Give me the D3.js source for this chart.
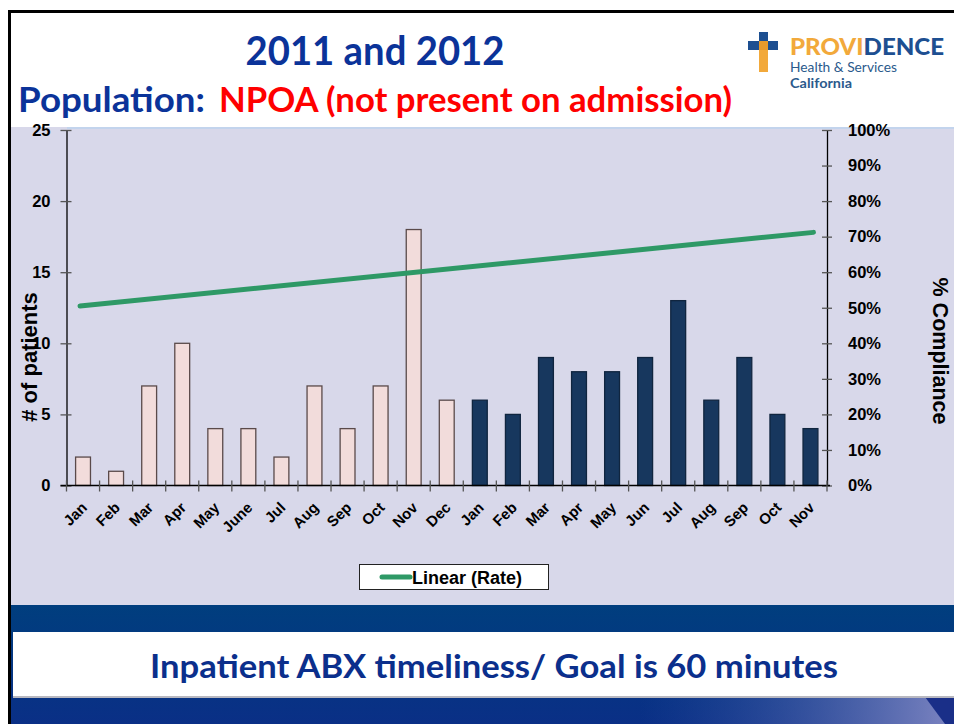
<!DOCTYPE html>
<html><head><meta charset="utf-8">
<script src="https://cdn.jsdelivr.net/npm/d3@7"></script>
<style>html,body{margin:0;padding:0;background:#fff;}svg{display:block;}</style>
</head><body>
<svg id="c" width="954" height="724"></svg>
<script>
// ---- data ----
const months2011 = ["Jan","Feb","Mar","Apr","May","June","Jul","Aug","Sep","Oct","Nov","Dec"];
const months2012 = ["Jan","Feb","Mar","Apr","May","Jun","Jul","Aug","Sep","Oct","Nov"];
const patients2011 = [2,1,7,10,4,4,2,7,4,7,18,6];
const patients2012 = [6,5,9,8,8,9,13,6,9,5,4];
const trendRate = [50.5, 71.2]; // linear trend of rate (%), first and last month
const leftTicks = [0,5,10,15,20,25];
const rightTicks = [0,10,20,30,40,50,60,70,80,90,100];

const svg = d3.select("#c");
const W = 954, H = 724;
const tfont = "Lato, 'Open Sans', sans-serif";
const font = "'Liberation Sans', Arial, sans-serif";

// slide frame
svg.append("rect").attr("x",0).attr("y",0).attr("width",W).attr("height",H).attr("fill","#fff");
svg.append("rect").attr("x",11).attr("y",127).attr("width",W-11).attr("height",478).attr("fill","#d8d8ea");
svg.append("line").attr("x1",67).attr("x2",W).attr("y1",128).attr("y2",128).attr("stroke","#bcd3ee").attr("stroke-width",1.5);

// bottom banner
const defs = svg.append("defs");
const g1 = defs.append("linearGradient").attr("id","ban").attr("x1",0).attr("x2",0).attr("y1",0).attr("y2",1);
g1.append("stop").attr("offset",0).attr("stop-color","#003e7e");
g1.append("stop").attr("offset",1).attr("stop-color","#0a2f86");
svg.append("rect").attr("x",11).attr("y",605).attr("width",W-11).attr("height",119).attr("fill","url(#ban)");
const g2 = defs.append("linearGradient").attr("id","sweep").attr("x1",0).attr("x2",1).attr("y1",0).attr("y2",0);
g2.append("stop").attr("offset",0).attr("stop-color","#3a5aa8").attr("stop-opacity",0);
g2.append("stop").attr("offset",1).attr("stop-color","#8a8ec8").attr("stop-opacity",0.9);
svg.append("rect").attr("x",640).attr("y",697).attr("width",W-640).attr("height",27).attr("fill","url(#sweep)");
svg.append("path").attr("d",`M925,697 L954,697 L954,724 L945,724 Z`).attr("fill","#1a2f88");
svg.append("rect").attr("x",13).attr("y",634).attr("width",W-13).attr("height",64).attr("fill","#b8b8c0");
svg.append("rect").attr("x",13).attr("y",632).attr("width",W-13).attr("height",64).attr("fill","#fff");
svg.append("text").attr("x",494).attr("y",678).attr("text-anchor","middle")
  .attr("font-family",tfont).attr("font-weight","bold").attr("font-size",32)
  .attr("fill","#0b2f8c").attr("textLength",688).attr("lengthAdjust","spacingAndGlyphs")
  .text("Inpatient ABX timeliness/ Goal is 60 minutes");

// black slide border (left & top)
svg.append("path").attr("d",`M9.5,${H} L9.5,11.5 L${W},11.5`).attr("fill","none").attr("stroke","#000").attr("stroke-width",3);

// titles
svg.append("text").attr("x",375).attr("y",65).attr("text-anchor","middle")
  .attr("font-family",tfont).attr("font-weight","bold").attr("font-size",41)
  .attr("fill","#0b3399").attr("textLength",259).attr("lengthAdjust","spacingAndGlyphs").text("2011 and 2012");
svg.append("text").attr("x",18).attr("y",112)
  .attr("font-family",tfont).attr("font-weight","bold").attr("font-size",34).attr("fill","#0b3399")
  .attr("textLength",187).attr("lengthAdjust","spacingAndGlyphs").text("Population:");
svg.append("text").attr("x",219).attr("y",112)
  .attr("font-family",tfont).attr("font-weight","bold").attr("font-size",34).attr("fill","#ff0000")
  .attr("textLength",513).attr("lengthAdjust","spacingAndGlyphs").text("NPOA (not present on admission)");

// logo
svg.append("rect").attr("x",748).attr("y",41).attr("width",30).attr("height",9).attr("fill","#1d4f91");
svg.append("rect").attr("x",759).attr("y",32).attr("width",9).attr("height",40).attr("fill","#f2a93b");
svg.append("rect").attr("x",759).attr("y",32).attr("width",9).attr("height",9).attr("fill","#1d4f91");
svg.append("rect").attr("x",759).attr("y",41).attr("width",9).attr("height",9).attr("fill","#e89a2c");
const lg = svg.append("text").attr("x",790).attr("y",55)
  .attr("font-family",tfont).attr("font-weight","900").attr("font-size",23)
  .attr("textLength",154).attr("lengthAdjust","spacingAndGlyphs");
lg.append("tspan").attr("fill","#f2a93b").text("PROVI");
lg.append("tspan").attr("fill","#1d4f91").text("DENCE");
svg.append("text").attr("x",790).attr("y",72).attr("font-family",tfont)
  .attr("font-size",13).attr("fill","#2b5a8c").attr("textLength",107).attr("lengthAdjust","spacingAndGlyphs").text("Health & Services");
svg.append("text").attr("x",790).attr("y",88).attr("font-family",tfont).attr("font-weight","bold")
  .attr("font-size",13).attr("fill","#2b5a8c").attr("textLength",62).attr("lengthAdjust","spacingAndGlyphs").text("California");

// ---- chart ----
const labels = months2011.concat(months2012);
const values = patients2011.concat(patients2012);
const years = months2011.map(()=>2011).concat(months2012.map(()=>2012));
const idx = labels.map((d,i)=>i);

const x0 = 66.5, x1 = 827;
const yTop = 130, yBot = 485.5;
const x = d3.scaleBand().domain(idx).range([x0, x1]).paddingInner(0.55).paddingOuter(0.275);
const xOuter = d3.scaleBand().domain(idx).range([x0, x1]);
const y = d3.scaleLinear().domain([0,25]).range([yBot, yTop]);
const yR = d3.scaleLinear().domain([0,100]).range([yBot, yTop]);

// bars
svg.append("g").selectAll("rect").data(idx).join("rect")
  .attr("x", i => x(i)).attr("width", x.bandwidth())
  .attr("y", i => y(values[i])).attr("height", i => y(0) - y(values[i]))
  .attr("fill", i => years[i]===2011 ? "#f2dcdb" : "#17375e")
  .attr("stroke", i => years[i]===2011 ? "#5a4a4a" : "#10253f")
  .attr("stroke-width", 1.3);

// trend line
const first = idx[0], last = idx[idx.length-1];
svg.append("line")
  .attr("x1", xOuter(first)+xOuter.bandwidth()/2 - 3).attr("y1", yR(trendRate[0]))
  .attr("x2", xOuter(last)+xOuter.bandwidth()/2 + 3).attr("y2", yR(trendRate[1]))
  .attr("stroke","#2e9966").attr("stroke-width",5).attr("stroke-linecap","round");

// left axis
const gl = svg.append("g").attr("transform",`translate(${x0},0)`)
  .call(d3.axisLeft(y).tickValues(leftTicks).tickSize(0).tickPadding(16));
gl.select(".domain").attr("stroke","#000").attr("stroke-width",1.3);
gl.selectAll(".tick text").attr("font-family",font).attr("font-weight","bold").attr("font-size",16.5).attr("fill","#000");
gl.selectAll(".tick").append("line").attr("x1",-6).attr("x2",5).attr("stroke","#555").attr("stroke-width",1.3);

// right axis
const gr = svg.append("g").attr("transform",`translate(${x1},0)`)
  .call(d3.axisRight(yR).tickValues(rightTicks).tickFormat(d=>d+"%").tickSize(0).tickPadding(21));
gr.select(".domain").attr("stroke","#000").attr("stroke-width",1.3);
gr.selectAll(".tick text").attr("font-family",font).attr("font-weight","bold").attr("font-size",16.5).attr("fill","#000");
gr.selectAll(".tick").append("line").attr("x1",-5).attr("x2",5).attr("stroke","#555").attr("stroke-width",1.3);

// bottom axis
svg.append("line").attr("x1",x0-6).attr("x2",x1+3).attr("y1",yBot).attr("y2",yBot).attr("stroke","#000").attr("stroke-width",1.3);
const bounds = idx.map(i=>xOuter(i)).concat([x1]);
svg.append("g").selectAll("line").data(bounds).join("line")
  .attr("x1",d=>d).attr("x2",d=>d).attr("y1",yBot-5).attr("y2",yBot+6).attr("stroke","#555").attr("stroke-width",1.3);
svg.append("g").selectAll("text").data(idx).join("text")
  .attr("transform", i => `translate(${xOuter(i)+xOuter.bandwidth()/2+5},${yBot+23}) rotate(-45)`)
  .attr("text-anchor","end").attr("font-family",font).attr("font-weight","bold").attr("font-size",15).attr("fill","#000")
  .text(i => labels[i]);

// axis titles
svg.append("text").attr("transform",`translate(37,357) rotate(-90)`).attr("text-anchor","middle")
  .attr("font-family",font).attr("font-weight","bold").attr("font-size",22).attr("fill","#000").text("# of patients");
svg.append("text").attr("transform",`translate(933,351) rotate(90)`).attr("text-anchor","middle")
  .attr("font-family",font).attr("font-weight","bold").attr("font-size",21.5).attr("fill","#000").text("% Compliance");

// legend
svg.append("rect").attr("x",359.5).attr("y",564.5).attr("width",189).attr("height",25).attr("fill","#fff").attr("stroke","#222").attr("stroke-width",1);
svg.append("line").attr("x1",382).attr("x2",410).attr("y1",577).attr("y2",577).attr("stroke","#2e9966").attr("stroke-width",5).attr("stroke-linecap","round");
svg.append("text").attr("x",412).attr("y",584).attr("font-family",font).attr("font-weight","bold").attr("font-size",18).attr("fill","#000").text("Linear (Rate)");
</script>
</body></html>
